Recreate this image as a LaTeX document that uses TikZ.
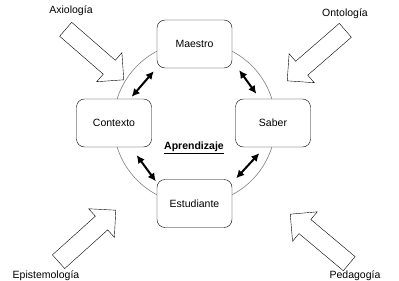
\documentclass[tikz,border=0pt]{standalone}
\usepackage{fontspec}
\setmainfont{Liberation Sans}
\usetikzlibrary{arrows.meta,shapes.arrows,calc}

\begin{document}
\begin{tikzpicture}[x=1pt,y=-1pt,
	font=\fontsize{10.5}{12}\selectfont,
	box/.style={draw, rounded corners=8pt, fill=white, minimum width=75pt, minimum height=48pt},
	link/.style={{Latex[length=8pt,width=8pt]}-{Latex[length=8pt,width=8pt]}, line width=2pt},
	bigarrow/.style={single arrow, draw, fill=white, inner xsep=0pt, inner ysep=9pt, minimum height=77pt, minimum width=0pt, single arrow head extend=10pt, anchor=tip}]
				\useasboundingbox (0,0) rectangle (399,281);
				% ciclo
				\coordinate (hub) at (194.5,123);
				\draw[gray, line width=0.6pt] (hub) circle[radius=81pt];
				\node[box] (maestro)    at (194.5,44)  {Maestro};
				\node[box] (contexto)   at (114,123)   {Contexto};
				\node[box] (saber)      at (273,123)   {Saber};
				\node[box] (estudiante) at (194.5,203.5) {Estudiante};
				\node at (194,148) {\underline{\textbf{Aprendizaje}}};
				\draw[link] ($(maestro.south west)+(-3,3)$) -- ($(contexto.north east)+(-20,-2)$);
				\draw[link] ($(maestro.south east)+(7,2)$) -- ($(saber.north west)+(21,-5)$);
				\draw[link] ($(contexto.south east)+(-15,8)$) -- ($(estudiante.north west)+(-1,2)$);
				\draw[link] ($(saber.south west)+(24,6)$) -- ($(estudiante.north east)+(4,-1)$);
				% flechas externas
				\node[bigarrow, rotate=-41] (axarrow)  at (124,80)  {};
				\node[bigarrow, rotate=221] (onarrow)  at (287,81)  {};
				\node[bigarrow, rotate=42]  (eparrow)  at (116,210) {};
				\node[bigarrow, rotate=140] (pearrow)  at (290,214) {};
				\node (axiologia)     at (71,10.5)  {Axiología};
				\node (ontologia)     at (345,13.5) {Ontología};
				\node (epistemologia) at (46,276)   {Epistemología};
				\node (pedagogia)     at (355,276)  {Pedagogía};
			\end{tikzpicture}
\end{document}
